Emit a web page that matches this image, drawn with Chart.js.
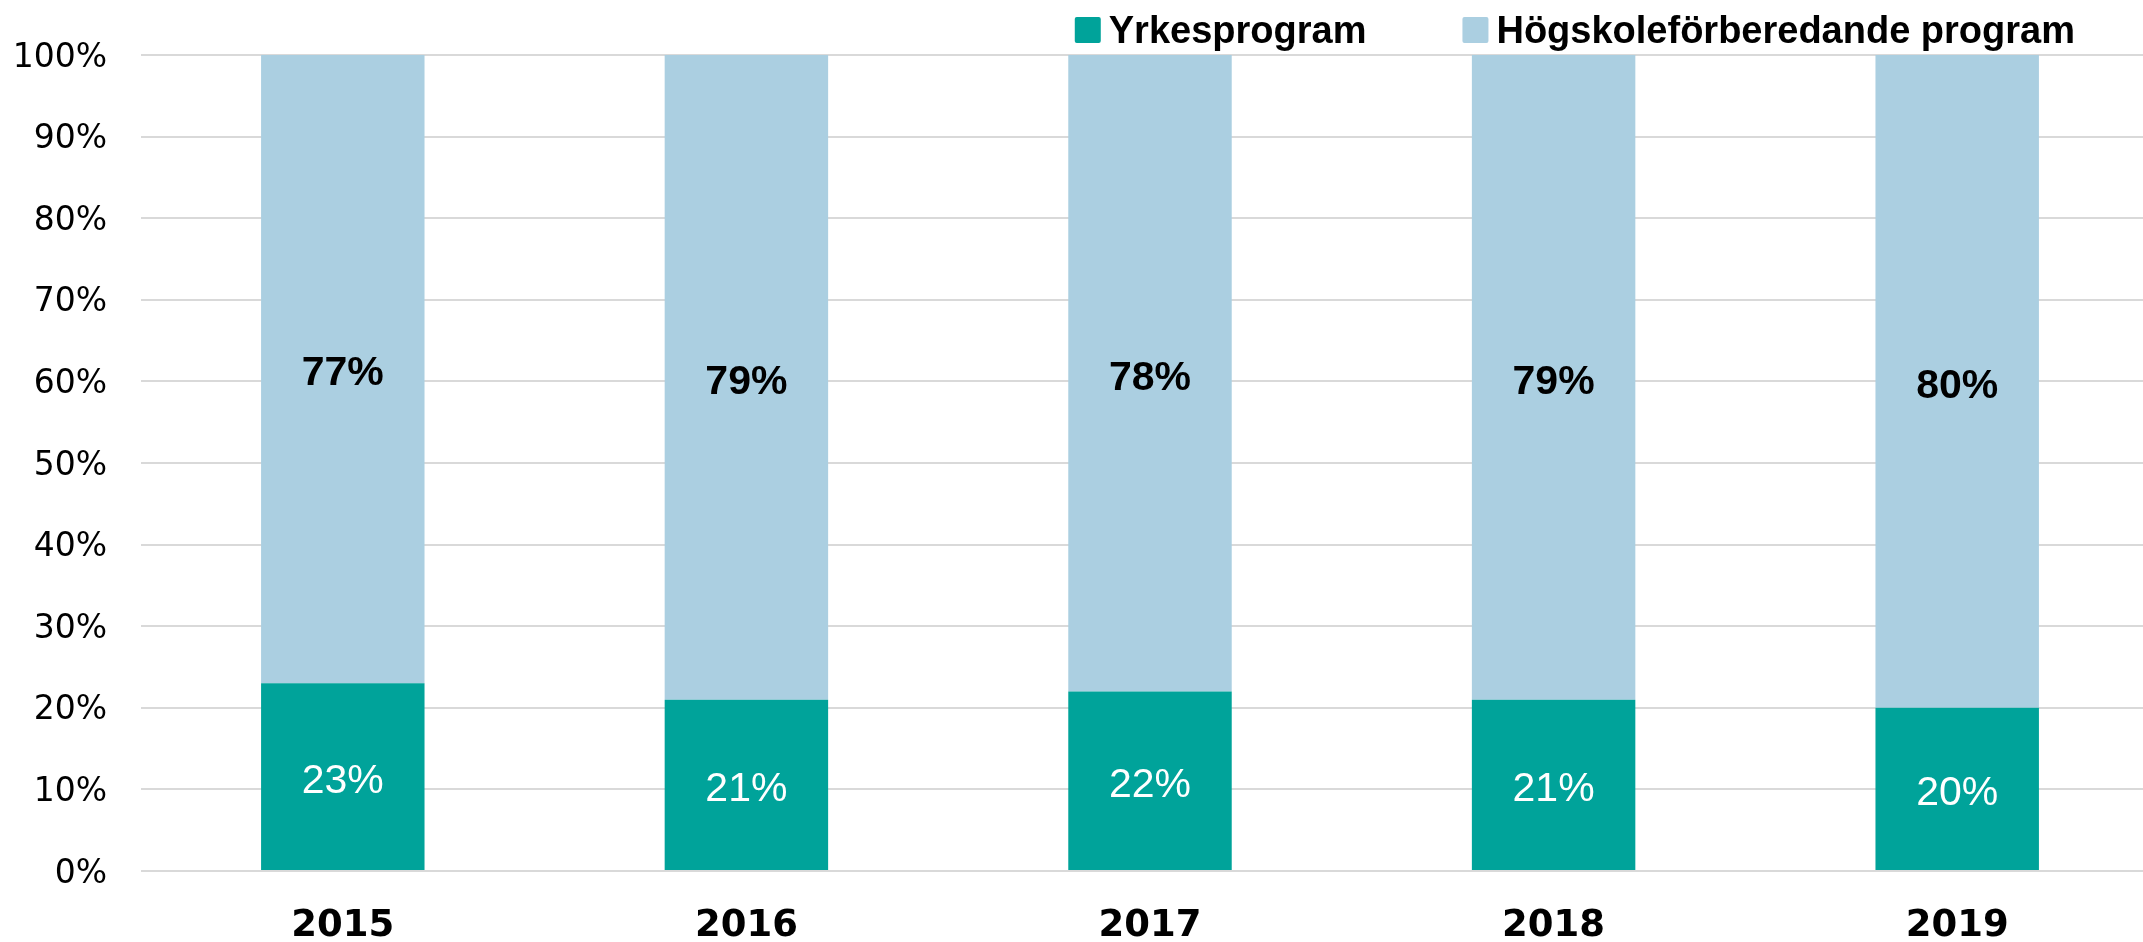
<!DOCTYPE html>
<html>
<head>
<meta charset="utf-8">
<script src="https://cdn.jsdelivr.net/npm/chart.js@4.4.1/dist/chart.umd.min.js"></script>
<style>
  html, body { margin: 0; padding: 0; background: #ffffff; overflow: hidden; }
  #wrap { width: 2159px; height: 942px; }
</style>
</head>
<body>
<div id="wrap"><canvas id="c" width="2159" height="942"></canvas></div>
<script>
const categories = ['2015', '2016', '2017', '2018', '2019'];
const yrkesLabel = 'Yrkesprogram';
const hogskoleLabel = 'Högskoleförberedande program';
const yrkesValues = [23, 21, 22, 21, 20];
const hogskoleValues = [77, 79, 78, 79, 80];
const yTickValues = [0, 10, 20, 30, 40, 50, 60, 70, 80, 90, 100];

const TEAL = '#00A39A';
const LIGHTBLUE = '#ABCFE1';

// Draws the value labels in the middle of each bar segment
const valueLabels = {
  id: 'valueLabels',
  afterDatasetsDraw(chart) {
    const ctx = chart.ctx;
    ctx.save();
    ctx.textAlign = 'center';
    ctx.textBaseline = 'middle';
    chart.data.datasets.forEach((ds, di) => {
      const meta = chart.getDatasetMeta(di);
      meta.data.forEach((bar, i) => {
        const p = bar.getProps(['x', 'y', 'base'], true);
        const cy = (p.y + p.base) / 2;
        ctx.fillStyle = ds.valueColor;
        ctx.font = ds.valueFont;
        ctx.fillText(ds.data[i] + '%', p.x, cy + 5);
      });
    });
    ctx.restore();
  }
};

// Custom legend: square boxes and bold labels, right part of the top strip
const topLegend = {
  id: 'topLegend',
  afterDraw(chart) {
    const ctx = chart.ctx;
    ctx.save();
    ctx.font = 'bold 38px "Liberation Sans", Arial, sans-serif';
    ctx.textBaseline = 'alphabetic';
    ctx.textAlign = 'left';
    const boxW = 26, boxH = 26, textGap = 8, itemGap = 96;
    const items = chart.data.datasets.map(ds => ({ text: ds.label, color: ds.backgroundColor, w: ctx.measureText(ds.label).width }));
    let total = 0;
    items.forEach((it, i) => { total += boxW + textGap + it.w + (i < items.length - 1 ? itemGap : 0); });
    let x = chart.chartArea.right - 84 - total;
    const boxTop = 17, baseline = 43;
    items.forEach(it => {
      ctx.fillStyle = it.color;
      ctx.beginPath();
      ctx.roundRect ? ctx.roundRect(x, boxTop, boxW, boxH, 2) : ctx.rect(x, boxTop, boxW, boxH);
      ctx.fill();
      x += boxW + textGap;
      ctx.fillStyle = '#000000';
      ctx.fillText(it.text, x, baseline);
      x += it.w + itemGap;
    });
    ctx.restore();
  }
};

new Chart(document.getElementById('c'), {
  type: 'bar',
  data: {
    labels: categories,
    datasets: [
      {
        label: yrkesLabel,
        data: yrkesValues,
        backgroundColor: TEAL,
        valueColor: '#ffffff',
        valueFont: '41px "Liberation Sans", Arial, sans-serif',
        barPercentage: 0.405,
        categoryPercentage: 1.0
      },
      {
        label: hogskoleLabel,
        data: hogskoleValues,
        backgroundColor: LIGHTBLUE,
        valueColor: '#000000',
        valueFont: 'bold 41px "Liberation Sans", Arial, sans-serif',
        barPercentage: 0.405,
        categoryPercentage: 1.0
      }
    ]
  },
  options: {
    responsive: false,
    animation: false,
    devicePixelRatio: 1,
    layout: { padding: { top: 55, right: 0, bottom: 0, left: 0 } },
    plugins: {
      legend: { display: false },
      tooltip: { enabled: false }
    },
    scales: {
      x: {
        stacked: true,
        grid: { display: false, drawTicks: false },
        border: { display: false },
        ticks: {
          color: '#000000',
          padding: 37,
          font: { family: '"DejaVu Sans", sans-serif', size: 37, weight: 'bold', lineHeight: 1.0 }
        },
        afterFit(scale) { scale.height = 71; }
      },
      y: {
        stacked: true,
        min: 0,
        max: 100,
        afterBuildTicks(scale) { scale.ticks = yTickValues.map(v => ({ value: v })); },
        grid: { color: '#D9D9D9', lineWidth: 2, drawTicks: false },
        border: { display: false },
        ticks: {
          color: '#000000',
          padding: 34,
          labelOffset: 3,
          font: { family: '"DejaVu Sans", sans-serif', size: 33, lineHeight: 1.0 },
          callback: v => v + '%'
        },
        afterFit(scale) { scale.width = 141; }
      }
    }
  },
  plugins: [valueLabels, topLegend]
});
</script>
</body>
</html>
